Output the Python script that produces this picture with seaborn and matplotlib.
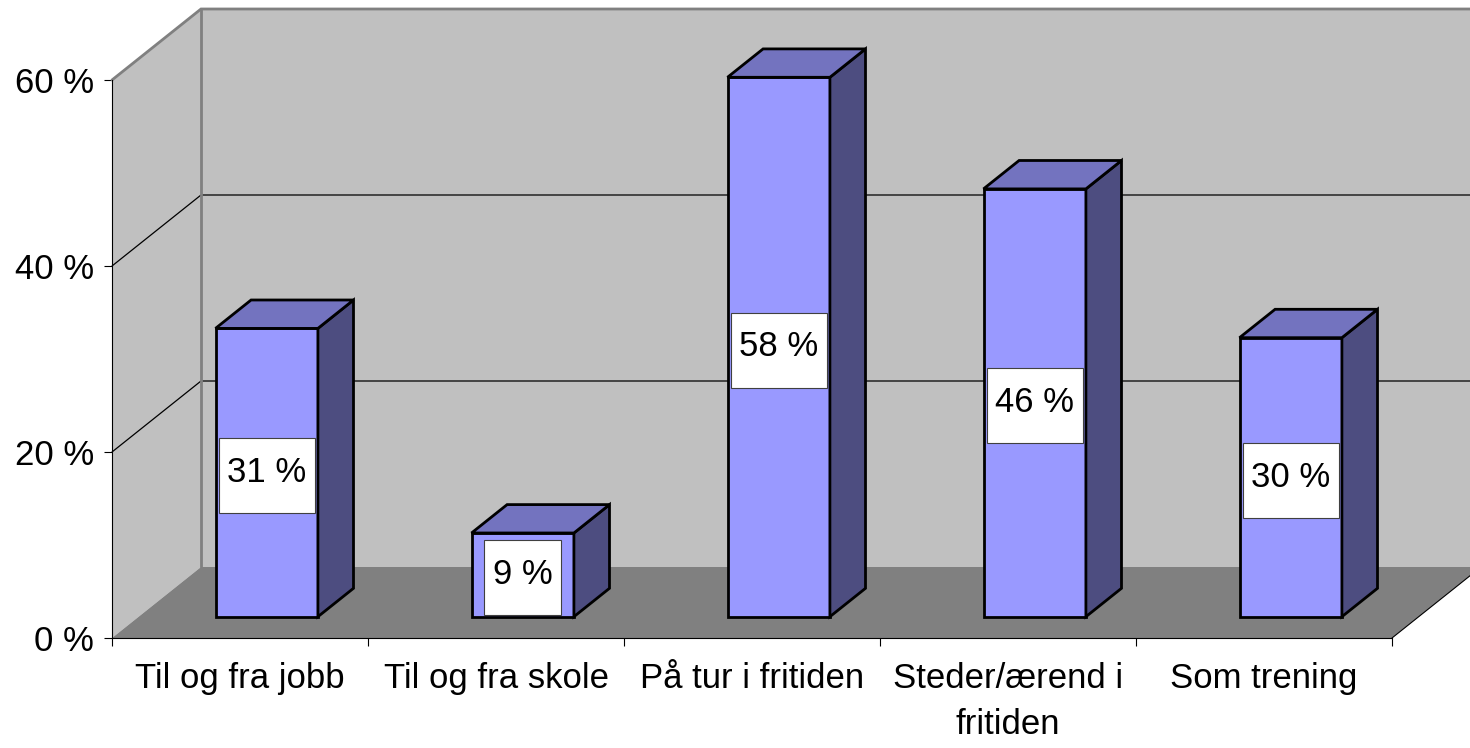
import matplotlib.pyplot as plt
import seaborn as sns
from matplotlib.patches import Polygon, Rectangle

# data
categories = ['Til og fra jobb', 'Til og fra skole', 'På tur i fritiden',
              'Steder/ærend i\nfritiden', 'Som trening']
values = [31, 9, 58, 46, 30]
y_ticks = [0, 20, 40, 60]
y_tick_labels = ['0 %', '20 %', '40 %', '60 %']

sns.set_style('white')
plt.rcParams['font.family'] = ['Liberation Sans', 'DejaVu Sans']
plt.rcParams['text.color'] = 'black'

W, H = 1470, 748
fig = plt.figure(figsize=(W / 100, H / 100), dpi=100)
ax = fig.add_axes([112 / W, 110 / H, 1280 / W, 558 / H])

# bars (front faces) via seaborn
sns.barplot(x=categories, y=values, color='#9999ff', saturation=1, width=0.4,
            edgecolor='black', linewidth=2, ax=ax)
bars = list(ax.patches)

ax.set_xlim(-0.5, 4.5)
ax.set_ylim(0, 60)

# depth of the 3d box, in data units
DX = 89 / 256
DY = 71 / (558 / 60)
x0, x1 = -0.5, 4.5
top = y_ticks[-1]

# walls and floor
wall = '#c0c0c0'
ax.add_patch(Polygon([(x0, 0), (x0 + DX, DY), (x0 + DX, top + DY), (x0, top)],
                     fc=wall, ec='none', zorder=0, clip_on=False))
ax.add_patch(Polygon([(x0 + DX, DY), (x1 + DX, DY), (x1 + DX, top + DY), (x0 + DX, top + DY)],
                     fc=wall, ec='none', zorder=0, clip_on=False))
ax.add_patch(Polygon([(x0, 0), (x1, 0), (x1 + DX, DY), (x0 + DX, DY)],
                     fc='#808080', ec='none', zorder=0, clip_on=False))

# gridlines on the walls
for v in y_ticks[1:-1]:
    ax.plot([x0, x0 + DX, x1 + DX], [v, v + DY, v + DY], color='black', lw=0.9,
            zorder=1, clip_on=False)
# wall outline
ax.plot([x0, x0 + DX, x1 + DX], [top, top + DY, top + DY], color='#808080', lw=2,
        zorder=1, clip_on=False, solid_joinstyle='miter')
ax.plot([x0 + DX, x0 + DX], [DY, top + DY], color='#808080', lw=2, zorder=1, clip_on=False)
ax.plot([x1, x1 + DX], [0, DY], color='black', lw=0.8, zorder=1, clip_on=False)

# 3d bars: move front faces into the box, add side and top
f0, bd = 0.3, 0.4
labels = []
for p, v in zip(bars, values):
    p.set_x(p.get_x() + f0 * DX)
    p.set_y(f0 * DY)
    p.set_zorder(3)
    p.set_clip_on(False)
    p.set_joinstyle('miter')
    xl = p.get_x()
    xr = xl + p.get_width()
    yb = p.get_y()
    yt = yb + p.get_height()
    ax.add_patch(Polygon([(xr, yb), (xr + bd * DX, yb + bd * DY), (xr + bd * DX, yt + bd * DY), (xr, yt)],
                         fc='#4d4d80', ec='black', lw=2, zorder=3, clip_on=False, joinstyle='miter'))
    ax.add_patch(Polygon([(xl, yt), (xl + bd * DX, yt + bd * DY), (xr + bd * DX, yt + bd * DY), (xr, yt)],
                         fc='#7373bf', ec='black', lw=2, zorder=3, clip_on=False, joinstyle='miter'))
    t = ax.text((xl + xr) / 2, yb + v / 2, f'{v} %', ha='center', va='center',
                fontsize=25, color='black', zorder=6)
    labels.append(t)

# axes
for s in ['top', 'right']:
    ax.spines[s].set_visible(False)
for s in ['left', 'bottom']:
    ax.spines[s].set_color('black')
    ax.spines[s].set_linewidth(0.8)
ax.set_facecolor('none')

ax.set_yticks(y_ticks, y_tick_labels)
ax.tick_params(axis='y', left=True, length=6, width=0.8, pad=7, labelsize=25,
               direction='out', color='black', labelcolor='black')
ax.set_xticks(range(len(categories)), categories)
ax.set_xticks([i - 0.5 for i in range(len(categories) + 1)], minor=True)
ax.tick_params(axis='x', which='major', length=0, pad=17, labelsize=25, labelcolor='black')
ax.tick_params(axis='x', which='minor', bottom=True, length=6, width=0.8,
               direction='out', color='black')
for lab in ax.get_xticklabels():
    lab.set_linespacing(1.5)
ax.set_xlabel('')
ax.set_ylabel('')

# white boxes behind the value labels
fig.canvas.draw()
r = fig.canvas.get_renderer()
inv = ax.transData.inverted()
for t in labels:
    bb = t.get_window_extent(r)
    cx = (bb.x0 + bb.x1) / 2
    cy = (bb.y0 + bb.y1) / 2 - 3
    w = bb.width + 17
    h = 75
    (a0, b0) = inv.transform((cx - w / 2, cy - h / 2))
    (a1, b1) = inv.transform((cx + w / 2, cy + h / 2))
    ax.add_patch(Rectangle((a0, b0), a1 - a0, b1 - b0, fc='white', ec='#404040',
                           lw=0.8, zorder=5, clip_on=False))

fig.savefig('out.png', dpi=100)
